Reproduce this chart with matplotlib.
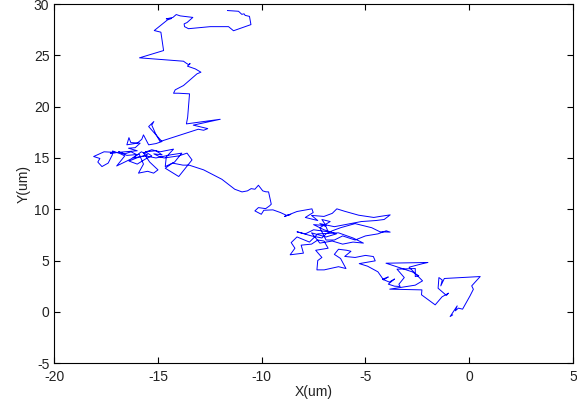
import matplotlib
matplotlib.use("Agg")
from matplotlib import pyplot as plt

plt.rcParams["font.family"] = ["Liberation Sans", "DejaVu Sans"]
plt.rcParams["axes.unicode_minus"] = False

# Trajectory (um), in path order
x_top = [-11.65, -11.12, -10.96, -10.85, -10.8, -10.59, -10.52, -10.8, -11.36, -11.6,
         -12.48, -13.53, -13.72, -13.74, -13.6, -13.32, -13.93, -14.12, -14.28, -14.6,
         -14.34, -14.54, -15.18, -14.86, -14.8, -14.73, -15.89, -13.77, -13.64, -13.53,
         -13.45, -13.58, -13.2, -12.93, -13.12, -13.77, -14.17, -14.25, -14.01, -13.48,
         -13.57, -13.63]
y_top = [29.37, 29.3, 29.0, 29.05, 28.9, 28.8, 28.0, 27.8, 27.4, 27.8,
         27.8, 27.6, 27.8, 28.07, 28.2, 28.7, 28.85, 28.98, 28.7, 28.56,
         28.6, 28.46, 27.42, 27.26, 26.45, 25.47, 24.76, 24.43, 24.24, 24.1,
         24.2, 23.95, 23.68, 23.36, 23.2, 22.06, 21.64, 21.31, 21.31, 21.25,
         18.97, 18.32]

x_left = [-12.0, -13.3, -12.6, -12.8, -13.06, -14.9, -15.1, -15.3, -15.2, -15.45,
          -14.81, -15.1, -15.45, -15.7, -15.78, -16.0, -16.5, -16.4, -16.31, -15.86,
          -16.1, -16.42, -16.0, -16.6, -17.3, -16.98, -17.6, -18.1, -17.8, -17.9,
          -17.7, -17.4, -17.2, -17.19, -16.8, -16.6, -16.99, -16.66, -16.3, -16.0,
          -16.3, -16.6, -16.9, -16.5, -15.9, -15.7, -15.94, -15.5, -15.21, -15.0,
          -15.4, -15.7, -15.3, -14.9, -14.25, -14.6, -14.65, -14.2, -13.85, -14.4,
          -15.1, -15.6, -16.2, -15.8, -15.5, -15.9, -16.4, -16.0, -15.6, -15.3,
          -15.6, -15.1, -14.8, -15.2, -14.9, -14.7, -14.0, -13.6,
          -13.36, -14.0, -14.65, -14.3, -13.8, -13.5, -12.8]
y_left = [18.77, 18.2, 17.86, 17.7, 17.8, 16.6, 17.3, 18.2, 18.55, 18.06,
          16.6, 16.4, 16.28, 17.25, 16.82, 16.44, 16.28, 16.98, 16.5, 16.44,
          16.0, 15.95, 15.7, 15.6, 15.47, 15.53, 15.6, 15.14, 14.95, 14.6,
          14.16, 14.5, 15.3, 15.68, 15.4, 15.2, 14.22, 14.55, 14.9, 15.3,
          15.6, 15.4, 15.6, 15.25, 15.35, 14.4, 13.52, 13.7, 13.52, 13.84,
          14.6, 15.5, 15.8, 15.6, 15.86, 15.1, 14.16, 14.6, 15.47, 15.3,
          15.0, 15.2, 15.0, 15.6, 15.3, 15.1, 14.7, 14.4, 14.9, 15.2,
          15.6, 15.7, 15.3, 15.4, 15.1, 15.0, 15.2, 15.47,
          14.81, 13.19, 14.0, 14.5, 14.3, 14.3, 13.84]

x_mid = [-11.92, -11.3, -10.95, -10.69, -10.51, -10.33, -10.16, -10.07, -9.95,
         -9.8, -9.67, -9.54, -9.63, -9.81, -10.16, -10.33, -10.02, -9.9, -9.46, -9.1]
y_mid = [12.92, 11.95, 11.69, 11.79, 12.01, 11.95, 12.34, 12.11, 11.79,
         11.7, 11.69, 10.49, 10.32, 10.06, 10.16, 9.84, 9.51, 9.9, 9.94, 9.68]

x_right = [-8.8, -8.6, -8.9, -8.3, -7.58, -7.52, -7.9, -7.3, -7.6, -7.0,
           -6.6, -6.38, -6.0, -5.33, -4.6, -4.3, -3.81, -4.1, -4.5, -5.2,
           -6.5, -7.2, -6.9, -6.8, -7.5, -7.9, -8.3, -7.6, -7.1, -6.9,
           -6.6, -6.2, -5.5, -4.7, -4.3, -3.81, -4.0, -4.4, -5.0, -5.5,
           -6.1, -6.5, -6.9, -7.2, -6.7, -7.1, -6.9, -7.5, -7.0, -6.4,
           -6.9, -7.6, -7.2, -6.6, -6.1, -5.6, -5.1, -5.6, -6.3, -7.3,
           -7.7, -8.3, -8.58, -8.4, -8.63, -7.99,
           -8.1, -7.6, -7.3, -7.0, -6.8, -7.4, -7.1, -7.3, -7.34, -6.99,
           -6.3, -5.94, -6.2, -6.5, -6.3, -5.9, -5.7, -6.0, -5.5, -5.0,
           -4.62, -4.53]
y_right = [9.4, 9.5, 9.3, 9.78, 10.04, 9.68, 9.2, 8.9, 9.4, 9.3,
           9.6, 10.04, 9.8, 9.42, 9.2, 9.3, 9.45, 9.0, 8.9, 8.8,
           8.3, 8.6, 8.3, 7.8, 8.0, 7.6, 7.8, 7.4, 7.2, 7.6,
           7.9, 8.2, 8.6, 8.2, 7.8, 7.77, 7.9, 7.6, 7.4, 7.0,
           7.4, 7.0, 7.0, 8.2, 8.8, 9.0, 8.4, 8.5, 8.0, 7.6,
           7.3, 7.7, 6.7, 6.9, 6.6, 6.8, 6.7, 7.2, 7.7, 7.6,
           6.8, 7.3, 6.75, 6.2, 5.56, 5.72,
           6.5, 6.6, 7.0, 6.9, 6.2, 6.0, 5.3, 5.0, 4.09, 4.09,
           4.4, 4.22, 5.2, 5.6, 6.1, 6.0, 5.9, 5.4, 5.3, 5.5,
           5.39, 4.97]

x_low = [-5.3, -4.9, -4.4, -4.13, -3.9, -4.18, -3.85, -3.6, -3.9, -3.6,
         -3.33, -3.39, -3.13,
         -3.48, -2.6, -2.6, -2.43, -2.75, -4.01, -1.99, -2.2, -2.9, -2.25,
         -2.6, -3.83, -2.28, -2.3, -1.64, -1.31, -1.0, -1.1, -1.5, -1.46,
         -1.3, -1.37, -1.2, 0.53, 0.2, 0.12, 0.2, 0.04, -0.32, -0.52,
         -0.67, -0.58, -0.92, -0.8]
y_low = [4.7, 4.45, 3.9, 3.12, 3.4, 3.18, 2.9, 3.2, 2.7, 2.5,
         2.47, 2.69, 3.34,
         4.16, 4.22, 3.44, 3.51, 3.9, 4.74, 4.81, 4.72, 4.35, 3.02,
         2.6, 2.21, 2.14, 1.66, 0.68, 1.46, 1.82, 1.6, 2.3, 3.34,
         3.1, 2.53, 3.25, 3.44, 2.7, 2.53, 2.2, 1.56, 0.26, 0.36,
         0.1, 0.58, -0.46, -0.3]

xs = x_top + x_left + x_mid + x_right + x_low
ys = y_top + y_left + y_mid + y_right + y_low

fig = plt.figure(figsize=(5.77, 4.08), dpi=100)
ax = fig.add_axes([0.094, 0.110, 0.899, 0.880])
ax.plot(xs, ys, color="#0000ff", linewidth=0.7)

ax.set_xlim(-20, 5)
ax.set_ylim(-5, 30)
ax.set_xticks(range(-20, 6, 5))
ax.set_yticks(range(-5, 31, 5))
ax.tick_params(direction="in", top=True, right=True, length=4, labelsize=10,
               labelcolor="#222222")
ax.tick_params(axis="x", pad=5)
for s in ax.spines.values():
    s.set_linewidth(0.8)
ax.set_xlabel("X(um)", fontsize=10, labelpad=1, color="#222222")
ax.set_ylabel("Y(um)", fontsize=10, labelpad=2, color="#222222")

fig.savefig("out.png", dpi=100)
